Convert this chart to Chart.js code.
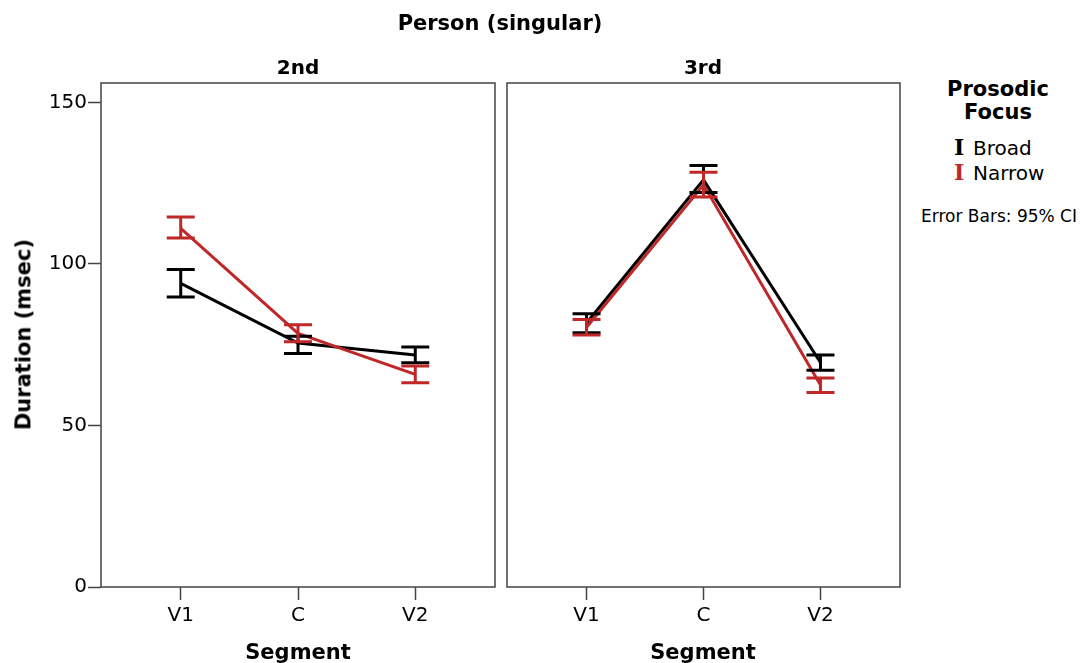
<!DOCTYPE html>
<html>
<head>
<meta charset="utf-8">
<script src="https://cdn.jsdelivr.net/npm/chart.js@4.4.1/dist/chart.umd.min.js"></script>
<style>
  body { margin: 0; background: #fff; font-family: "DejaVu Sans", sans-serif; color: #000; }
  #wrap { position: relative; width: 1084px; height: 663px; overflow: hidden; }
  canvas { position: absolute; top: 0; }
  .txt { position: absolute; white-space: nowrap; line-height: 1.2; }
  .bold { font-weight: bold; }
  .icon { display: inline-block; font-family: "DejaVu Serif", serif; font-weight: bold; font-size: 22px; width: 19px; line-height: 20px; }
</style>
</head>
<body>
<div id="wrap">
  <canvas id="panel2nd" width="500" height="663" style="left:0;width:500px;height:663px"></canvas>
  <canvas id="panel3rd" width="403" height="663" style="left:502px;width:403px;height:663px"></canvas>

  <div class="txt bold" style="left:300px;width:400px;text-align:center;top:11px;font-size:21px">Person (singular)</div>
  <div class="txt bold" style="left:198px;width:200px;text-align:center;top:55px;font-size:20px">2nd</div>
  <div class="txt bold" style="left:603px;width:200px;text-align:center;top:55px;font-size:20px">3rd</div>
  <div class="txt bold" style="left:198px;width:200px;text-align:center;top:640px;font-size:21px">Segment</div>
  <div class="txt bold" style="left:603px;width:200px;text-align:center;top:640px;font-size:21px">Segment</div>
  <div class="txt bold" style="left:-76px;width:200px;text-align:center;top:322px;font-size:21px;transform:rotate(-90deg)">Duration (msec)</div>

  <div class="txt bold" style="left:918px;width:160px;text-align:center;top:78px;font-size:21px;line-height:23px">Prosodic<br>Focus</div>
  <div class="txt" style="left:954px;top:136px;font-size:20px"><span class="icon" style="color:#000">I</span>Broad</div>
  <div class="txt" style="left:954px;top:161px;font-size:20px"><span class="icon" style="color:rgb(190,40,40)">I</span>Narrow</div>
  <div class="txt" style="left:921px;top:206px;font-size:17px">Error Bars: 95% CI</div>
</div>

<script>
// categories and tick labels
const segments = ['V1', 'C', 'V2'];
const yTicks = [0, 50, 100, 150];

// 2nd person: means and 95% CI bounds
const broad2ndMean = [94, 75.5, 71.8];
const broad2ndLow = [89.8, 72.3, 69.4];
const broad2ndHigh = [98.3, 77.6, 74.3];
const narrow2ndMean = [111, 78.5, 65.8];
const narrow2ndLow = [108, 75.9, 63.2];
const narrow2ndHigh = [114.5, 81.2, 68.4];

// 3rd person
const broad3rdMean = [81.7, 126, 69.5];
const broad3rdLow = [78.7, 122.1, 67.1];
const broad3rdHigh = [84.6, 130.5, 71.8];
const narrow3rdMean = [80.4, 124.5, 62.5];
const narrow3rdLow = [78, 120.7, 60.2];
const narrow3rdHigh = [82.8, 128.4, 64.7];

const broadColor = '#000000';
const narrowColor = 'rgb(190, 40, 40)';

function points(values) {
    return values.map((v, i) => ({ x: i, y: v }));
}

// draws the CI whiskers and the frame round the plot area
const errorBarPlugin = {
    id: 'errorBars',
    afterDatasetsDraw(chart) {
        const ctx = chart.ctx;
        const xScale = chart.scales.x;
        const yScale = chart.scales.y;
        const area = chart.chartArea;

        ctx.save();
        ctx.strokeStyle = '#444';
        ctx.lineWidth = 1.5;
        ctx.strokeRect(area.left, area.top, area.right - area.left, area.bottom - area.top);

        // broad first, narrow on top
        [1, 0].forEach(di => {
            const ds = chart.data.datasets[di];
            ctx.strokeStyle = ds.borderColor;
            ctx.lineWidth = 3;
            ds.low.forEach((lo, i) => {
                const x = xScale.getPixelForValue(i);
                const yLo = yScale.getPixelForValue(lo);
                const yHi = yScale.getPixelForValue(ds.high[i]);
                ctx.beginPath();
                ctx.moveTo(x, yLo);
                ctx.lineTo(x, yHi);
                ctx.moveTo(x - 14, yLo);
                ctx.lineTo(x + 14, yLo);
                ctx.moveTo(x - 14, yHi);
                ctx.lineTo(x + 14, yHi);
                ctx.stroke();
            });
        });
        ctx.restore();
    }
};

function makePanel(canvasId, showY, padding, broad, narrow) {
    const ctx = document.getElementById(canvasId).getContext('2d');
    return new Chart(ctx, {
        type: 'line',
        data: {
            datasets: [{
                label: 'Narrow',
                data: points(narrow.mean),
                low: narrow.low,
                high: narrow.high,
                borderColor: narrowColor,
                borderWidth: 3,
                pointRadius: 0,
                tension: 0,
                order: 1
            }, {
                label: 'Broad',
                data: points(broad.mean),
                low: broad.low,
                high: broad.high,
                borderColor: broadColor,
                borderWidth: 3,
                pointRadius: 0,
                tension: 0,
                order: 2
            }]
        },
        options: {
            responsive: false,
            animation: false,
            layout: { padding: padding },
            plugins: {
                legend: { display: false },
                tooltip: { enabled: false }
            },
            scales: {
                x: {
                    type: 'linear',
                    min: -0.68,
                    max: 2.68,
                    afterBuildTicks: scale => { scale.ticks = segments.map((s, i) => ({ value: i })); },
                    afterFit: scale => { scale.height = 76; },
                    ticks: {
                        callback: value => segments[value],
                        color: '#000',
                        font: { family: 'DejaVu Sans', size: 20 },
                        padding: 4,
                        maxRotation: 0
                    },
                    grid: { drawOnChartArea: false, tickLength: 13, tickColor: '#444', tickWidth: 1.5 },
                    border: { display: false }
                },
                y: {
                    display: showY,
                    min: 0,
                    max: 156,
                    afterBuildTicks: scale => { scale.ticks = yTicks.map(v => ({ value: v })); },
                    afterFit: scale => { scale.width = showY ? 101 : 0; },
                    ticks: {
                        color: '#000',
                        font: { family: 'DejaVu Sans', size: 20 },
                        padding: 1
                    },
                    grid: { drawOnChartArea: false, tickLength: 13, tickColor: '#444', tickWidth: 1.5 },
                    border: { display: false }
                }
            }
        },
        plugins: [errorBarPlugin]
    });
}

makePanel('panel2nd', true, { top: 83, right: 5, left: 0, bottom: 0 },
    { mean: broad2ndMean, low: broad2ndLow, high: broad2ndHigh },
    { mean: narrow2ndMean, low: narrow2ndLow, high: narrow2ndHigh });

makePanel('panel3rd', false, { top: 83, right: 5, left: 5, bottom: 0 },
    { mean: broad3rdMean, low: broad3rdLow, high: broad3rdHigh },
    { mean: narrow3rdMean, low: narrow3rdLow, high: narrow3rdHigh });
</script>
</body>
</html>
